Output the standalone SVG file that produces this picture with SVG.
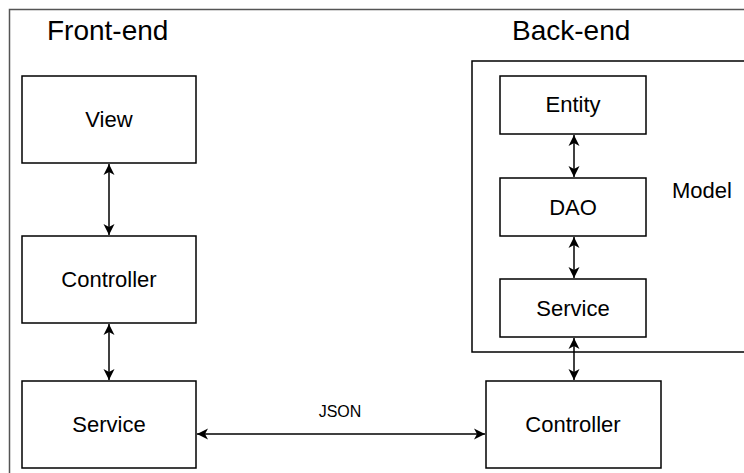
<svg xmlns="http://www.w3.org/2000/svg" width="744" height="473" viewBox="0 0 744 473">
<defs>
<style>
.box{fill:#fff;stroke:#000;stroke-width:1.5}
.frame{fill:none;stroke:#555;stroke-width:1.5}
.lbl{font-family:"Liberation Sans",Arial,sans-serif;font-size:22px;fill:#000;text-anchor:middle}
.title{font-family:"Liberation Sans",Arial,sans-serif;font-size:28px;fill:#000}
.edge{stroke:#000;stroke-width:1.5;fill:none;marker-start:url(#ah);marker-end:url(#ah)}
</style>
<marker id="ah" markerUnits="userSpaceOnUse" markerWidth="12" markerHeight="12" refX="11" refY="6" orient="auto-start-reverse">
<path d="M0,0.5 L11,6 L0,11.5 L3,6 Z" fill="#000"/>
</marker>
</defs>
<rect x="0" y="0" width="744" height="473" fill="#fff"/>
<rect class="frame" x="9.5" y="9.5" width="800" height="500"/>
<text class="title" x="47" y="40">Front-end</text>
<text class="title" x="512" y="40">Back-end</text>
<g id="model">
<rect class="box" x="472" y="61" width="400" height="291"/>
<text class="lbl" x="672" y="198" style="text-anchor:start">Model</text>
</g>
<g id="fe-view"><rect class="box" x="22" y="76" width="174" height="87"/><text class="lbl" x="109" y="127">View</text></g>
<g id="fe-controller"><rect class="box" x="22" y="236" width="174" height="87"/><text class="lbl" x="109" y="287">Controller</text></g>
<g id="fe-service"><rect class="box" x="22" y="381" width="174" height="87"/><text class="lbl" x="109" y="432">Service</text></g>
<g id="be-entity"><rect class="box" x="500" y="76" width="146" height="58"/><text class="lbl" x="573" y="112">Entity</text></g>
<g id="be-dao"><rect class="box" x="500" y="178" width="146" height="58"/><text class="lbl" x="573" y="215">DAO</text></g>
<g id="be-service"><rect class="box" x="500" y="279" width="146" height="58"/><text class="lbl" x="573" y="316">Service</text></g>
<g id="be-controller"><rect class="box" x="486" y="381" width="175" height="87"/><text class="lbl" x="573" y="432">Controller</text></g>
<g id="connectors">
<line class="edge" x1="109" y1="164" x2="109" y2="235"/>
<line class="edge" x1="109" y1="324" x2="109" y2="380"/>
<line class="edge" x1="574" y1="135" x2="574" y2="177"/>
<line class="edge" x1="574" y1="237" x2="574" y2="278"/>
<line class="edge" x1="574" y1="338" x2="574" y2="380"/>
<line class="edge" x1="197" y1="434" x2="485" y2="434"/>
<text x="340" y="417" style="font-family:'Liberation Sans',Arial,sans-serif;font-size:16px;text-anchor:middle">JSON</text>
</g>
</svg>
